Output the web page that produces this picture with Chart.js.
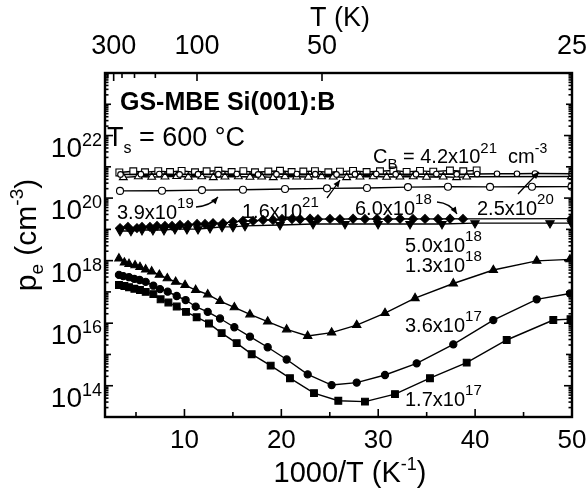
<!DOCTYPE html>
<html>
<head>
<meta charset="utf-8">
<script src="https://cdn.jsdelivr.net/npm/chart.js@4.4.1/dist/chart.umd.min.js"></script>
<style>
  html, body { margin: 0; padding: 0; background: #fff; }
  #wrap { width: 587px; height: 493px; }
</style>
</head>
<body>
<div id="wrap"><canvas id="c" width="587" height="493"></canvas></div>
<script>
// Hole concentration p_e (cm^-3) versus 1000/T (K^-1) for each boron level C_B

// C_B = 4.2x10^21 (open squares)
const xB42e21 = [3.28, 4.72, 5.93, 7.30, 8.51, 9.71, 11.09, 12.29, 13.50, 14.87, 16.08, 17.28, 18.66, 19.86, 21.06, 22.27, 23.47, 24.85, 26.05, 27.40, 28.80, 30.18, 31.56, 32.93, 34.31, 35.68, 37.40, 38.78, 40.16];
const pB42e21 = [6.6e20, 7.2e20, 6.7e20, 7.3e20, 6.8e20, 7.4e20, 6.7e20, 7.2e20, 7.5e20, 6.8e20, 7.3e20, 6.7e20, 7.1e20, 7.5e20, 6.8e20, 7.1e20, 7.3e20, 6.7e20, 7.0e20, 7.4e20, 6.8e20, 7.2e20, 7.6e20, 6.9e20, 7.4e20, 7.0e20, 7.6e20, 7.2e20, 7.7e20];

// C_B = 1.6x10^21 (open triangles)
const xB16e21 = [3.69, 5.24, 6.62, 7.99, 9.20, 10.40, 11.78, 12.98, 14.18, 15.56, 16.76, 17.97, 19.17, 20.38, 21.58, 22.79, 24.16, 25.36, 26.74, 28.12, 29.49, 30.87, 32.24, 33.62, 34.99, 36.71, 38.09, 39.12, 49.95];
const pB16e21 = [4.6e20, 4.9e20, 4.7e20, 4.8e20, 5.0e20, 4.7e20, 4.9e20, 4.6e20, 4.8e20, 4.9e20, 4.7e20, 4.8e20, 4.6e20, 4.9e20, 4.8e20, 4.7e20, 4.9e20, 4.8e20, 4.6e20, 4.8e20, 4.9e20, 4.7e20, 4.8e20, 4.9e20, 4.7e20, 4.8e20, 4.6e20, 4.8e20, 4.9e20];

// C_B = 2.5x10^20 (small open circles)
const xB25e20 = [3.40, 5.50, 7.40, 9.50, 11.40, 13.50, 15.40, 17.60, 19.50, 21.60, 23.50, 25.70, 27.60, 29.80, 31.80, 33.90, 36.00, 38.10, 40.20, 42.26, 44.32, 46.18, 49.95];
const pB25e20 = [5.7e20, 5.8e20, 5.9e20, 5.7e20, 5.8e20, 5.8e20, 5.9e20, 5.7e20, 5.8e20, 5.9e20, 5.8e20, 5.7e20, 5.8e20, 5.9e20, 5.8e20, 5.8e20, 5.9e20, 5.8e20, 5.9e20, 6.0e20, 6.0e20, 6.1e20, 6.0e20];

// C_B = 3.9x10^19 (open circles)
const xB39e19 = [3.35, 7.68, 11.81, 16.04, 20.38, 24.71, 28.84, 33.07, 37.20, 41.54, 45.87, 49.95];
const pB39e19 = [1.70e20, 1.72e20, 1.80e20, 1.84e20, 1.95e20, 2.05e20, 2.10e20, 2.25e20, 2.30e20, 2.28e20, 2.30e20, 2.32e20];

// C_B = 6.0x10^18 (filled diamonds)
const xB60e18 = [3.35, 4.17, 5.10, 5.62, 6.44, 7.17, 7.99, 8.72, 9.54, 10.37, 11.30, 12.12, 12.95, 13.98, 15.01, 16.04, 17.08, 18.11, 19.14, 20.07, 21.10, 21.93, 22.96, 23.78, 25.02, 26.05, 27.40, 28.63, 29.87, 31.01, 32.25, 33.59, 34.83, 36.17, 37.41, 38.75, 49.95];
const pB60e18 = [1.10e19, 1.20e19, 1.10e19, 1.20e19, 1.20e19, 1.29e19, 1.29e19, 1.29e19, 1.38e19, 1.38e19, 1.48e19, 1.48e19, 1.58e19, 1.58e19, 1.74e19, 1.86e19, 1.86e19, 2.00e19, 2.00e19, 2.14e19, 2.14e19, 2.10e19, 2.18e19, 2.12e19, 2.16e19, 2.12e19, 2.18e19, 2.14e19, 2.16e19, 2.12e19, 2.18e19, 2.14e19, 2.16e19, 2.14e19, 2.18e19, 2.16e19, 2.20e19];

// C_B = 5.0x10^18 (filled down-triangles)
const xB50e18 = [3.35, 4.48, 5.62, 6.75, 7.89, 9.02, 10.26, 11.40, 12.64, 13.88, 15.01, 16.25, 19.86, 23.27, 26.57, 29.98, 33.28, 36.58, 39.99, 47.73, 49.95];
const pB50e18 = [8.9e18, 8.9e18, 9.5e18, 9.5e18, 9.5e18, 1.02e19, 1.02e19, 1.02e19, 1.10e19, 1.20e19, 1.20e19, 1.29e19, 1.38e19, 1.48e19, 1.48e19, 1.48e19, 1.48e19, 1.48e19, 1.58e19, 1.58e19, 1.58e19];

// C_B = 1.3x10^18 (filled triangles)
const xB13e18 = [3.24, 3.80, 4.28, 4.90, 5.41, 6.00, 6.62, 7.41, 8.23, 9.09, 10.06, 11.16, 12.40, 13.67, 15.15, 16.76, 18.59, 20.55, 22.72, 25.19, 27.78, 30.70, 33.80, 37.75, 41.88, 46.36, 49.79];
const pB13e18 = [1.17e18, 8.7e17, 7.8e17, 7.1e17, 6.2e17, 5.2e17, 4.5e17, 3.5e17, 2.7e17, 2.1e17, 1.66e17, 1.15e17, 8.3e16, 5.1e16, 3.2e16, 1.9e16, 1.12e16, 6.3e15, 3.9e15, 5.0e15, 8.7e15, 2.1e16, 6.3e16, 1.86e17, 5.0e17, 9.8e17, 1.10e18];

// C_B = 3.6x10^17 (filled circles)
const xB36e17 = [3.24, 3.69, 4.28, 4.83, 5.38, 6.00, 6.79, 7.48, 8.27, 9.20, 10.12, 11.16, 12.40, 13.67, 15.15, 16.76, 18.59, 20.55, 22.72, 25.19, 27.78, 30.70, 33.97, 37.75, 41.88, 46.36, 49.79];
const pB36e17 = [3.5e17, 3.2e17, 2.95e17, 2.6e17, 2.4e17, 2.1e17, 1.58e17, 1.23e17, 1.02e17, 7.4e16, 5.5e16, 3.4e16, 2.3e16, 1.41e16, 7.4e15, 3.7e15, 1.7e15, 6.9e14, 2.3e14, 1.05e14, 1.26e14, 2.2e14, 5.2e14, 2.1e15, 1.26e16, 5.8e16, 8.9e16];

// C_B = 1.7x10^17 (filled squares)
const xB17e17 = [3.24, 3.80, 4.28, 4.83, 5.41, 6.00, 6.79, 7.54, 8.34, 9.20, 10.16, 11.26, 12.53, 13.84, 15.39, 16.94, 18.90, 20.89, 23.37, 25.88, 28.63, 31.73, 35.34, 39.13, 43.26, 48.07, 49.85];
const pB17e17 = [1.66e17, 1.55e17, 1.41e17, 1.26e17, 1.15e17, 1.0e17, 8.5e16, 5.8e16, 4.6e16, 3.4e16, 2.3e16, 1.55e16, 9.8e15, 4.8e15, 2.3e15, 1.02e15, 4.4e14, 1.74e14, 5.8e13, 3.3e13, 3.1e13, 5.4e13, 1.74e14, 5.5e14, 2.9e15, 1.26e16, 1.35e16];

// Axis ticks and labels
const bottomTicks = [10, 20, 30, 40, 50];
const bottomMinorTicks = [5, 15, 25, 35, 45];
const topTickTemps = [300, 100, 50, 25];
const topTickLabels = ['300', '100', '50', '25'];
const topMinorTemps = [350, 250, 200, 150];
const yLabelExponents = [22, 20, 18, 16, 14];

const FONT = '"Liberation Sans", Arial, Helvetica, sans-serif';

function pts(xs, ys) { return xs.map((x, i) => ({ x: x, y: ys[i] })); }

function series(label, xs, ys, style, radius, filled, rotation) {
  return {
    label: label,
    data: pts(xs, ys),
    showLine: true,
    borderColor: '#000',
    borderWidth: 1.4,
    tension: 0,
    fill: false,
    pointStyle: style,
    pointRadius: radius,
    pointRotation: rotation || 0,
    pointBorderColor: '#000',
    pointBorderWidth: 1.1,
    pointBackgroundColor: filled ? '#000' : '#fff'
  };
}

// Draws a run of text pieces: [text, size, dy, bold]
function rich(ctx, x, y, parts, align) {
  let w = 0;
  const widths = parts.map(p => {
    ctx.font = (p[3] ? 'bold ' : '') + p[1] + 'px ' + FONT;
    const m = ctx.measureText(p[0]).width;
    w += m;
    return m;
  });
  let cx = align === 'right' ? x - w : (align === 'center' ? x - w / 2 : x);
  ctx.textAlign = 'left';
  ctx.textBaseline = 'alphabetic';
  parts.forEach((p, i) => {
    ctx.font = (p[3] ? 'bold ' : '') + p[1] + 'px ' + FONT;
    ctx.fillText(p[0], cx, y + (p[2] || 0));
    cx += widths[i];
  });
}

function arrow(ctx, x0, y0, cx, cy, x1, y1) {
  ctx.beginPath();
  ctx.moveTo(x0, y0);
  ctx.quadraticCurveTo(cx, cy, x1, y1);
  ctx.stroke();
  const a = Math.atan2(y1 - cy, x1 - cx);
  const L = 7, W = 3;
  ctx.beginPath();
  ctx.moveTo(x1, y1);
  ctx.lineTo(x1 - L * Math.cos(a) + W * Math.sin(a), y1 - L * Math.sin(a) - W * Math.cos(a));
  ctx.lineTo(x1 - L * Math.cos(a) - W * Math.sin(a), y1 - L * Math.sin(a) + W * Math.cos(a));
  ctx.closePath();
  ctx.fill();
}

const framePlugin = {
  id: 'frameAndText',
  afterDatasetsDraw(chart) {
    const ctx = chart.ctx;
    const ca = chart.chartArea;
    const xs = chart.scales.x, xt = chart.scales.xt, ys = chart.scales.y;
    ctx.save();
    ctx.strokeStyle = '#000';
    ctx.fillStyle = '#000';
    ctx.lineWidth = 1.6;
    const seg = (a, b, c, d) => { ctx.beginPath(); ctx.moveTo(a, b); ctx.lineTo(c, d); ctx.stroke(); };
    // bottom axis ticks
    bottomTicks.forEach(v => { const p = xs.getPixelForValue(v); seg(p, ca.bottom, p, ca.bottom - 8); });
    bottomMinorTicks.forEach(v => { const p = xs.getPixelForValue(v); seg(p, ca.bottom, p, ca.bottom - 5); });
    // top axis ticks
    topTickTemps.forEach(t => { const p = xt.getPixelForValue(1000 / t); seg(p, ca.top, p, ca.top + 8); });
    topMinorTemps.forEach(t => { const p = xt.getPixelForValue(1000 / t); seg(p, ca.top, p, ca.top + 5); });
    // left and right log ticks
    for (let d = 13; d <= 24; d++) {
      for (let m = 1; m <= 9; m++) {
        const v = m * Math.pow(10, d);
        if (v < ys.min || v > ys.max) continue;
        const p = ys.getPixelForValue(v);
        const len = m === 1 ? (d % 2 === 0 ? 8 : 6) : 3.5;
        seg(ca.left, p, ca.left + len, p);
        seg(ca.right, p, ca.right - len, p);
      }
    }
    // frame
    ctx.lineWidth = 2.4;
    ctx.strokeRect(ca.left, ca.top, ca.right - ca.left, ca.bottom - ca.top);
    ctx.restore();
  },
  afterDraw(chart) {
    const ctx = chart.ctx;
    const ys = chart.scales.y;
    ctx.save();
    ctx.fillStyle = '#000';
    ctx.strokeStyle = '#000';

    // y tick labels 10^n
    yLabelExponents.forEach(e => {
      const p = ys.getPixelForValue(Math.pow(10, e));
      rich(ctx, 102, p + 21, [['10', 28], [String(e), 18, -11]], 'right');
    });

    // axis titles
    rich(ctx, 350, 482, [['1000/T (K', 29], ['-1', 18, -12], [')', 29]], 'center');
    rich(ctx, 340, 26, [['T (K)', 27]], 'center');
    ctx.save();
    ctx.translate(36, 235);
    ctx.rotate(-Math.PI / 2);
    rich(ctx, 0, 0, [['p', 30], ['e', 19, 7], [' (cm', 30], ['-3', 19, -13], [')', 30]], 'center');
    ctx.restore();

    // sample description
    rich(ctx, 120, 110, [['GS-MBE Si(001):B', 25, 0, true]]);
    rich(ctx, 107, 146, [['T', 27], ['s', 16, 7], [' = 600 \u00B0C', 27]]);

    // boron concentration labels
    rich(ctx, 373, 163, [['C', 20], ['B', 15, 6], [' = 4.2x10', 20], ['21', 15, -10], ['  cm', 20], ['-3', 14, -10]]);
    rich(ctx, 117, 219, [['3.9x10', 20], ['19', 15, -11]]);
    rich(ctx, 242, 218, [['1.6x10', 20], ['21', 15, -11]]);
    rich(ctx, 355, 215, [['6.0x10', 20], ['18', 15, -11]]);
    rich(ctx, 477, 215, [['2.5x10', 20], ['20', 15, -11]]);
    rich(ctx, 405, 252, [['5.0x10', 20], ['18', 15, -11]]);
    rich(ctx, 405, 272, [['1.3x10', 20], ['18', 15, -11]]);
    rich(ctx, 405, 332, [['3.6x10', 20], ['17', 15, -11]]);
    rich(ctx, 405, 406, [['1.7x10', 20], ['17', 15, -11]]);

    // pointer arrows
    ctx.lineWidth = 1.3;
    arrow(ctx, 196, 207, 210, 206, 218, 197);
    arrow(ctx, 327, 198, 333, 190, 340, 180);
    arrow(ctx, 437, 202, 450, 203, 457, 214);
    arrow(ctx, 518, 194, 528, 183, 539, 172);
    ctx.restore();
  }
};

const fixPad = s => { s.paddingLeft = 0; s.paddingRight = 0; s.paddingTop = 0; s.paddingBottom = 0; };

new Chart(document.getElementById('c'), {
  type: 'scatter',
  data: {
    datasets: [
      series('1.7e17', xB17e17, pB17e17, 'rect', 4.8, true),
      series('3.6e17', xB36e17, pB36e17, 'circle', 3.6, true),
      series('1.3e18', xB13e18, pB13e18, 'triangle', 4.8, true),
      series('6.0e18', xB60e18, pB60e18, 'rectRot', 4.4, true),
      series('5.0e18', xB50e18, pB50e18, 'triangle', 4.8, true, 180),
      series('3.9e19', xB39e19, pB39e19, 'circle', 3.5, false),
      series('2.5e20', xB25e20, pB25e20, 'circle', 2.8, false),
      series('1.6e21', xB16e21, pB16e21, 'triangle', 4.5, false),
      series('4.2e21', xB42e21, pB42e21, 'rect', 4.8, false)
    ]
  },
  options: {
    responsive: false,
    animation: false,
    devicePixelRatio: 1,
    events: [],
    layout: { padding: 0 },
    plugins: { legend: { display: false }, tooltip: { enabled: false } },
    scales: {
      x: {
        type: 'linear', position: 'bottom', min: 1.8, max: 50,
        grid: { display: false, drawTicks: false }, border: { display: false },
        afterBuildTicks: s => { s.ticks = bottomTicks.map(v => ({ value: v })); },
        afterFit: s => { s.height = 76; fixPad(s); },
        ticks: { autoSkip: false, maxRotation: 0, padding: 8, color: '#000', font: { family: FONT, size: 26 },
                 callback: v => String(v) }
      },
      xt: {
        type: 'linear', position: 'top', min: 2.64, max: 40,
        grid: { display: false, drawTicks: false }, border: { display: false },
        afterBuildTicks: s => { s.ticks = topTickTemps.map(t => ({ value: 1000 / t })); },
        afterFit: s => { s.height = 73; fixPad(s); },
        ticks: { autoSkip: false, maxRotation: 0, padding: 10, color: '#000', font: { family: FONT, size: 27 },
                 callback: (v, i) => topTickLabels[i] }
      },
      y: {
        type: 'logarithmic', position: 'left', min: 1e13, max: 1e24,
        grid: { display: false, drawTicks: false }, border: { display: false },
        ticks: { display: false },
        afterFit: s => { s.width = 105; fixPad(s); }
      },
      yr: {
        type: 'logarithmic', position: 'right', min: 1e13, max: 1e24,
        grid: { display: false, drawTicks: false }, border: { display: false },
        ticks: { display: false },
        afterFit: s => { s.width = 15; fixPad(s); }
      }
    }
  },
  plugins: [framePlugin]
});
</script>
</body>
</html>
